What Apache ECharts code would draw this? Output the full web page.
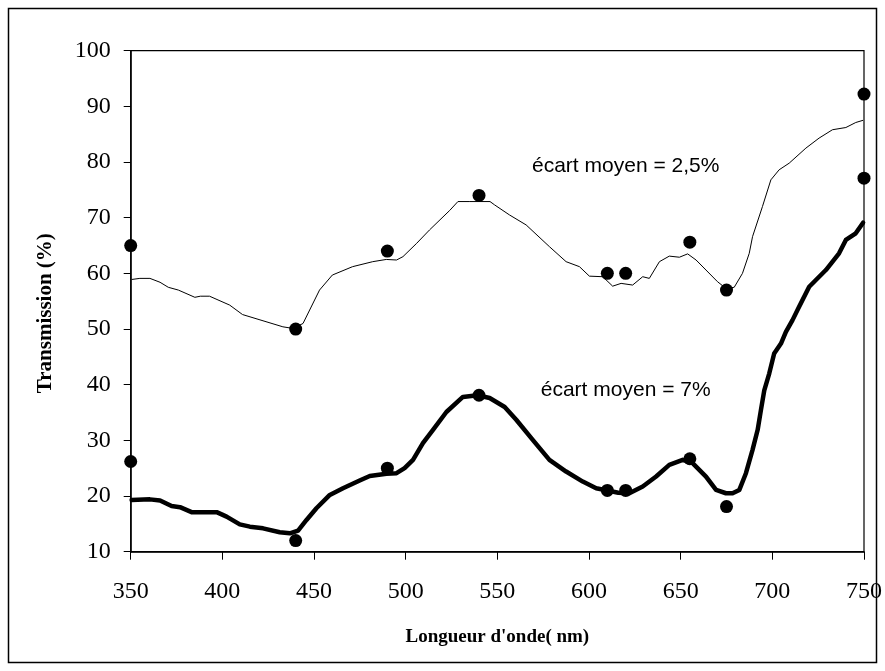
<!DOCTYPE html>
<html>
<head>
<meta charset="utf-8">
<script src="https://cdn.jsdelivr.net/npm/echarts@6/dist/echarts.min.js"></script>
<style>html,body{margin:0;padding:0;background:#fff}#c{width:885px;height:671px}</style>
</head>
<body>
<div id="c"></div>
<script>
// Thin curve (upper spectrum)
var upperX = [350.5,355,360.5,366,370.5,376,385,388,393,404,411,420,433,438.6,444,453,460,471,482,489.4,495,498.5,506,513,524,528.5,535,546,548.5,556.6,565.7,578.4,587.5,594.8,600.2,607.5,612.9,617.5,623.8,629.3,632.9,638.4,643.8,649.3,653.8,658.4,663.8,670.1,674.7,679.2,683.7,687.4,689.2,694.6,699.2,703.7,709.2,718.3,725.5,732.8,740.1,745.5,749.5];
var upperY = [58.9,59.1,59.1,58.4,57.5,57.0,55.7,55.9,55.9,54.3,52.6,51.7,50.4,50.1,51.0,57.0,59.7,61.2,62.1,62.5,62.4,63.0,65.4,67.8,71.3,72.9,72.9,72.9,72.3,70.5,68.7,64.8,62.1,61.2,59.5,59.4,57.7,58.2,57.9,59.4,59.1,62.1,63.1,62.9,63.5,62.4,60.6,58.5,57.3,57.5,60.0,63.6,66.6,72.0,76.8,78.6,79.8,82.5,84.3,85.8,86.2,87.1,87.5];
// Thick curve (lower spectrum)
var lowerX = [350.5,360.5,366,372.3,376.9,383.2,396.9,402.3,409.5,415,422.2,431.3,436.8,441.3,445.9,451.3,458.6,465.8,474.9,480.4,489.5,495,499.4,504,509.4,514.9,522.2,531.2,539.2,545.8,554,560.3,569.3,578.4,587.5,596.6,603.9,610,616,622,629.3,636.6,643.8,651.1,656.5,663.8,669.3,674.7,678.3,682,685.6,689.2,692,693.8,695.6,698.3,701,704.7,707.4,711,714.6,720.1,729.2,736.4,740.1,745.5,749.5];
var lowerY = [19.3,19.4,19.2,18.2,18.0,17.1,17.1,16.3,14.9,14.5,14.2,13.5,13.3,13.8,15.7,17.8,20.2,21.4,22.8,23.6,24.0,24.1,25.0,26.5,29.5,31.9,35.1,37.8,38.1,37.6,36.0,33.7,30.1,26.5,24.4,22.6,21.4,21.0,20.6,20.5,21.7,23.5,25.6,26.5,25.9,23.5,21.1,20.5,20.5,21.1,24.1,28.3,31.9,35.5,39.0,42.0,45.6,47.4,49.5,51.6,54.0,57.6,60.6,63.6,66.0,67.2,69.1];
// Measured points
var pointX = [350,440,490,540,610,620,655,675,750];
var pointUpper = [65,50,64,74,60,60,65.6,57,92.2];
var pointLower = [26.2,12,25,38.1,21,21,26.7,18.1,77.1];
// Annotations
var noteX = [620,620];
var noteY = [79.3,39];
var noteText = ['écart moyen = 2,5%','écart moyen = 7%'];
var xTicks = [350,400,450,500,550,600,650,700,750];
var yTicks = [10,20,30,40,50,60,70,80,90,100];

function zip(a,b){return a.map(function(v,i){return [v,b[i]];});}

var chart = echarts.init(document.getElementById('c'), null, {renderer:'canvas'});
var serif = '"Liberation Serif","Times New Roman",serif';
var sans = '"Liberation Sans",Arial,sans-serif';
chart.setOption({
  animation:false,
  backgroundColor:'#fff',
  grid:{left:130.7,top:50.7,right:20,bottom:119.3,show:true,borderColor:'#000',borderWidth:1.2,backgroundColor:'transparent'},
  graphic:[{type:'rect',shape:{x:8.5,y:8.5,width:868,height:654},style:{fill:'none',stroke:'#000',lineWidth:1.5},silent:true}],
  xAxis:{type:'value',min:xTicks[0],max:xTicks[xTicks.length-1],interval:50,
    name:"Longueur d'onde( nm)",nameLocation:'middle',nameGap:76,
    nameTextStyle:{fontFamily:serif,fontWeight:'bold',fontSize:19,color:'#000'},
    axisLine:{show:true,lineStyle:{color:'#000',width:1.5}},
    axisTick:{show:true,inside:false,length:8,lineStyle:{color:'#000',width:1}},
    axisLabel:{margin:28,fontFamily:serif,fontSize:24,color:'#000'},
    splitLine:{show:false}},
  yAxis:{type:'value',min:yTicks[0],max:yTicks[yTicks.length-1],interval:10,
    name:'Transmission (%)',nameLocation:'middle',nameGap:75,nameRotate:90,
    nameTextStyle:{fontFamily:serif,fontWeight:'bold',fontSize:21,color:'#000',padding:[0,0,0,-24]},
    axisLine:{show:true,lineStyle:{color:'#000',width:1.5}},
    axisTick:{show:true,inside:false,length:7,lineStyle:{color:'#000',width:1}},
    axisLabel:{margin:20,fontFamily:serif,fontSize:24,color:'#000'},
    splitLine:{show:false}},
  series:[
    {type:'line',data:zip(upperX,upperY),showSymbol:false,symbol:'none',lineStyle:{color:'#000',width:1,opacity:1},z:2},
    {type:'line',data:zip(lowerX,lowerY),showSymbol:false,symbol:'none',lineStyle:{color:'#000',width:4.5,join:'round',cap:'round',opacity:1},z:2},
    {type:'scatter',data:zip(pointX,pointUpper),symbol:'circle',symbolSize:13,itemStyle:{color:'#000',opacity:1},z:3},
    {type:'scatter',data:zip(pointX,pointLower),symbol:'circle',symbolSize:13,itemStyle:{color:'#000',opacity:1},z:3},
    {type:'scatter',data:noteX.map(function(x,i){return [x,noteY[i],noteText[i]];}),symbolSize:0,itemStyle:{opacity:1},
      label:{show:true,position:'inside',formatter:function(p){return p.data[2];},fontFamily:sans,fontSize:21,color:'#000'},z:4}
  ]
});
</script>
</body>
</html>
